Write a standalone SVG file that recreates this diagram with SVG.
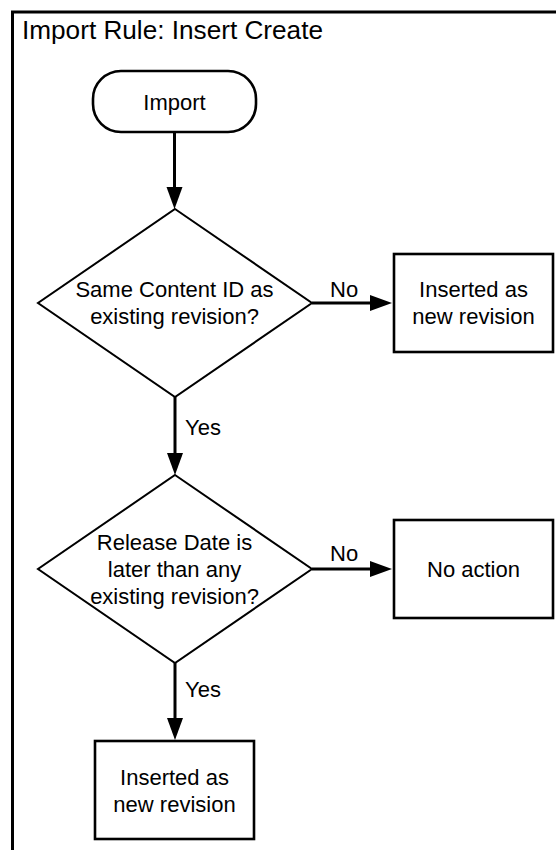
<svg xmlns="http://www.w3.org/2000/svg" width="556" height="850" viewBox="0 0 556 850">
  <defs>
    <style>
      .t { font-family: "Liberation Sans", Arial, sans-serif; font-size: 22px; fill: #000; text-anchor: middle; }
      .lbl { font-family: "Liberation Sans", Arial, sans-serif; font-size: 22px; fill: #000; }
      .title { font-family: "Liberation Sans", Arial, sans-serif; font-size: 25px; fill: #000; }
      .box { fill: #fff; stroke: #000; stroke-width: 2.6; }
      .dia { fill: #fff; stroke: #000; stroke-width: 2; }
      .conn { fill: none; stroke: #000; stroke-width: 3; }
    </style>
    <marker id="arr" markerUnits="userSpaceOnUse" markerWidth="24" markerHeight="18" refX="10" refY="8" orient="auto">
      <path d="M0,0 L22,8 L0,16 Z" fill="#000"/>
    </marker>
  </defs>
  <rect width="556" height="850" fill="#fff"/>

  <g id="frame">
    <path d="M12.5,870 V12 H580" fill="none" stroke="#000" stroke-width="3"/>
    <text class="title" x="22" y="39" textLength="301" lengthAdjust="spacingAndGlyphs">Import Rule: Insert Create</text>
  </g>

  <g id="connectors">
    <line class="conn" x1="174.5" y1="132" x2="174.5" y2="197" marker-end="url(#arr)"/>
    <line class="conn" x1="312" y1="303" x2="380" y2="303" marker-end="url(#arr)"/>
    <line class="conn" x1="175" y1="397" x2="175" y2="463" marker-end="url(#arr)"/>
    <line class="conn" x1="312" y1="569" x2="380" y2="569" marker-end="url(#arr)"/>
    <line class="conn" x1="175" y1="663" x2="175" y2="728" marker-end="url(#arr)"/>
    <text class="lbl" x="330" y="297">No</text>
    <text class="lbl" x="185" y="435">Yes</text>
    <text class="lbl" x="330" y="561">No</text>
    <text class="lbl" x="185" y="697">Yes</text>
  </g>

  <g id="import">
    <rect class="box" x="93" y="71" width="163" height="61" rx="28" ry="28"/>
    <text class="t" x="174.5" y="110">Import</text>
  </g>

  <g id="decision1">
    <polygon class="dia" points="175,209 312,303 175,397 38,303"/>
    <text class="t" x="174.5" y="297">Same Content ID as</text>
    <text class="t" x="174.5" y="323.5">existing revision?</text>
  </g>

  <g id="inserted1">
    <rect class="box" x="394" y="254" width="159" height="98"/>
    <text class="t" x="473.5" y="297">Inserted as</text>
    <text class="t" x="473.5" y="323.5">new revision</text>
  </g>

  <g id="decision2">
    <polygon class="dia" points="175,475 312,569 175,663 38,569"/>
    <text class="t" x="174.5" y="550">Release Date is</text>
    <text class="t" x="174.5" y="577">later than any</text>
    <text class="t" x="174.5" y="604">existing revision?</text>
  </g>

  <g id="noaction">
    <rect class="box" x="394" y="520" width="159" height="98"/>
    <text class="t" x="473.5" y="577">No action</text>
  </g>

  <g id="inserted2">
    <rect class="box" x="95" y="741" width="159" height="98"/>
    <text class="t" x="174.5" y="785">Inserted as</text>
    <text class="t" x="174.5" y="811.5">new revision</text>
  </g>
</svg>
